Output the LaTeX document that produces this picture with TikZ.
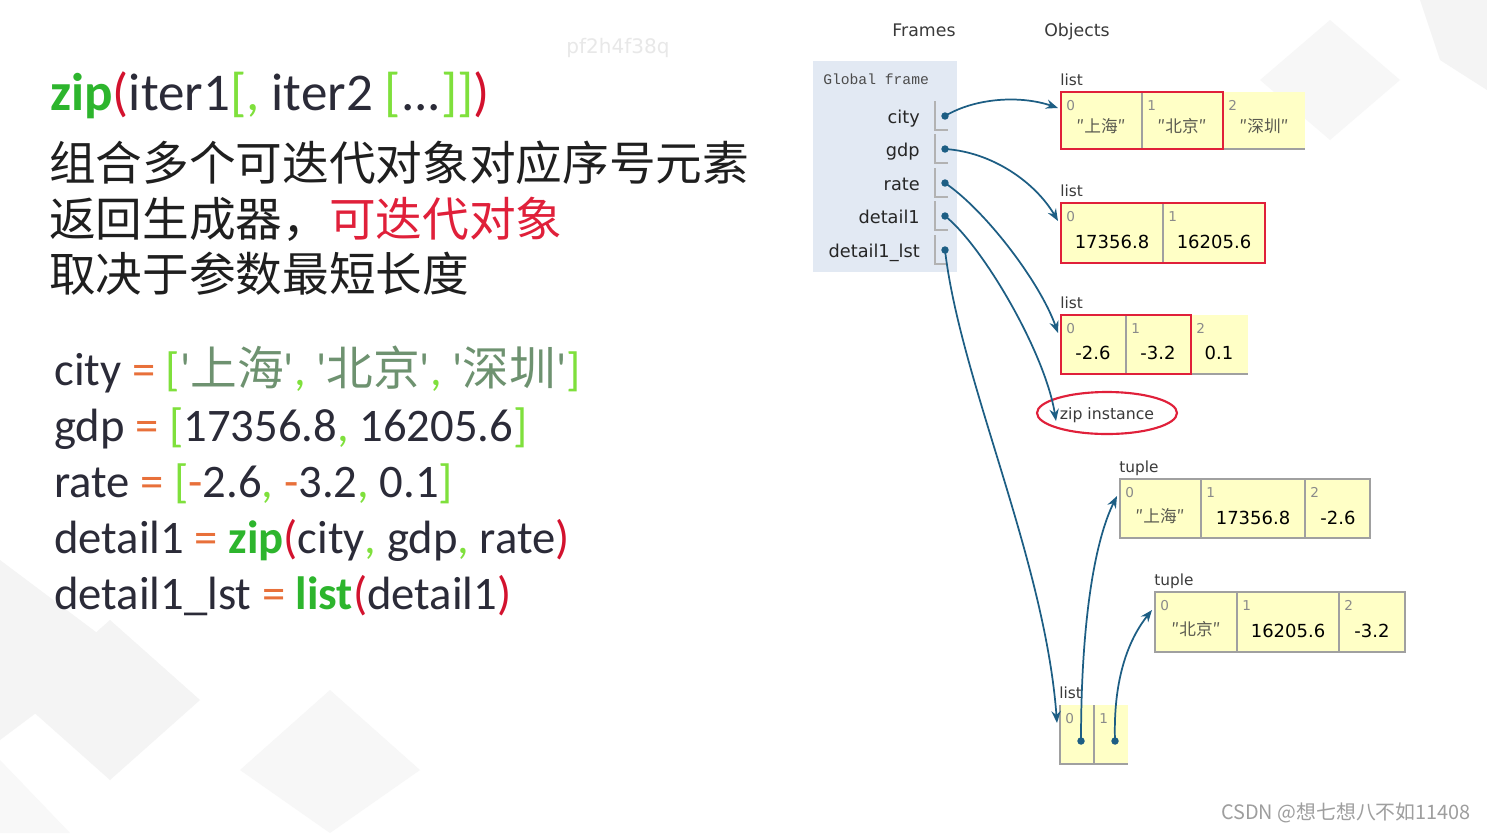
\documentclass[tikz,border=0pt]{standalone}
\usepackage{fontspec}
\usetikzlibrary{arrows.meta}
\setmainfont{Carlito}
\newfontfamily\cjk{Noto Sans CJK SC}
\newfontfamily\dv{DejaVu Sans}
\newfontfamily\mono{Liberation Mono}
\definecolor{titlegreen}{HTML}{2DB52D}
\definecolor{lgreen}{HTML}{7FE03C}
\definecolor{pred}{HTML}{D3122E}
\definecolor{darktext}{HTML}{2B2B38}
\definecolor{eqorange}{HTML}{E8703A}
\definecolor{strgreen}{HTML}{6E9270}
\definecolor{hlred}{HTML}{E0203A}
\definecolor{cellyellow}{HTML}{FFFFC6}
\definecolor{cellline}{HTML}{A0A0A0}
\definecolor{framebg}{HTML}{E2E9F3}
\definecolor{arrowblue}{HTML}{1D5E84}
\definecolor{dgrey}{HTML}{3A3A3A}
\definecolor{idxgrey}{HTML}{8A8A8A}
\definecolor{strgrey}{HTML}{5A5A50}
\definecolor{bgshape}{HTML}{F4F4F4}
\newcommand{\fsz}[1]{\fontsize{#1}{#1}\selectfont}
\newcommand{\cbr}[1]{\textcolor{lgreen}{#1}}
\newcommand{\ceq}[1]{\textcolor{eqorange}{#1}}
\newcommand{\cpar}[1]{\textcolor{pred}{#1}}
\newcommand{\cfun}[1]{\textbf{\textcolor{titlegreen}{#1}}}
\newcommand{\cstr}[1]{\textcolor{strgreen}{\textquotesingle{\cjk #1}\textquotesingle}}
\tikzset{
  txt/.style={inner sep=0pt, anchor=base west},
  titletxt/.style={txt, text=darktext, font=\fsz{39.8}},
  cntxt/.style={txt, text=black!88, font=\cjk\fsz{35}},
  codetxt/.style={txt, text=darktext, font=\fsz{35}},
  hdr/.style={inner sep=0pt, anchor=base, text=dgrey, font=\dv\fsz{13}},
  varname/.style={inner sep=0pt, anchor=base east, text=black!85, font=\dv\fsz{13.3}},
  objlabel/.style={inner sep=0pt, anchor=base west, text=dgrey, font=\dv\fsz{11.5}},
  idx/.style={inner sep=0pt, anchor=base west, text=idxgrey, font=\dv\fsz{10.2}},
  val/.style={inner sep=0pt, anchor=base, text=black, font=\dv\fsz{13.5}},
  strval/.style={inner sep=0pt, anchor=base, text=strgrey, font=\cjk\fsz{12.5}},
  ptr/.style={circle, fill=arrowblue, inner sep=0pt, minimum size=5.6pt},
  arr/.style={draw=arrowblue, line width=1.3pt, -{Stealth[length=9pt,width=7pt,inset=3pt]}},
  hl/.style={draw=hlred, line width=2.2pt},
  cellrule/.style={draw=cellline, line width=0.8pt},
  slotrule/.style={draw=black!30, line width=0.8pt},
}
\begin{document}
\begin{tikzpicture}[x=0.75pt,y=-0.75pt]
\useasboundingbox (0,0) rectangle (1487,833);
\fill[white] (0,0) rectangle (1487,833);
% faint background shapes
\fill[bgshape] (0,560) -- (120,650) -- (0,740) -- cycle;
\fill[bgshape] (110,620) -- (200,700) -- (110,780) -- (20,700) -- cycle;
\fill[bgshape!70!white] (330,690) -- (420,770) -- (330,833) -- (240,770) -- cycle;
\fill[bgshape!60!white] (0,760) -- (70,833) -- (0,833) -- cycle;
\fill[bgshape] (1420,0) -- (1487,0) -- (1487,90) -- (1440,60) -- cycle;
\fill[bgshape!70!white] (1330,20) -- (1400,80) -- (1330,140) -- (1260,80) -- cycle;
% watermark
\node[inner sep=0pt, text=black!9, font=\dv\fsz{15}] (wm) at (618,48) {pf2h4f38q};

% ---------- left texts ----------
\node[titletxt] (title) at (50,110) {\cfun{zip}\cpar{(}iter1\cbr{[, }iter2 \cbr{[}...\cbr{]]}\cpar{)}};
\node[cntxt] (cn1) at (49,180) {组合多个可迭代对象对应序号元素};
\node[cntxt] (cn2) at (49,236) {返回生成器，\textcolor{hlred}{可迭代对象}};
\node[cntxt] (cn3) at (49,291) {取决于参数最短长度};

\node[codetxt] (c1) at (54,385) {city \ceq{=} \cbr{[}\cstr{上海}\cbr{, }\cstr{北京}\cbr{, }\cstr{深圳}\cbr{]}};
\node[codetxt] (c2) at (54,441) {gdp \ceq{=} \cbr{[}17356.8\cbr{,} 16205.6\cbr{]}};
\node[codetxt] (c3) at (54,497) {rate \ceq{=} \cbr{[}\ceq{-}2.6\cbr{,} \ceq{-}3.2\cbr{,} 0.1\cbr{]}};
\node[codetxt] (c4) at (54,553) {detail1 \ceq{=} \cfun{zip}\cpar{(}city\cbr{,} gdp\cbr{,} rate\cpar{)}};
\node[codetxt] (c5) at (54,609) {detail1\_lst \ceq{=} \cfun{list}\cpar{(}detail1\cpar{)}};

% ---------- headers ----------
\node[hdr] (frames) at (924,36) {Frames};
\node[hdr] (objects) at (1077,36) {Objects};

% ---------- global frame ----------
\fill[framebg] (813,61) rectangle (957,272);
\node[inner sep=0pt, anchor=base west, text=black!70, font=\mono\fsz{11}] (gf) at (823,84) {Global frame};
\foreach \nm/\y/\lab in {city/116/city, gdp/149/gdp, rate/183/rate, dA/216/detail1, dB/250/detail1\_lst}{
  \draw[slotrule] (935,\y-15) -- (935,\y+14) -- (948,\y+14);
  \node[varname] (v\nm) at (920,\y+7) {\lab};
  \node[ptr] (p\nm) at (945,\y) {};
}

% ---------- list 1 (city) ----------
\node[objlabel] (l1lab) at (1060,85) {list};
\fill[cellyellow] (1061,92) rectangle (1305,149);
\draw[cellrule] (1142,92) -- (1142,149) (1223,92) -- (1223,149) (1061,149) -- (1305,149);
\draw[hl] (1061,92) rectangle (1223,149);
\node[idx] at (1066,110) {0};
\node[idx] at (1147,110) {1};
\node[idx] at (1228,110) {2};
\node[strval] at (1101,132) {″上海″};
\node[strval] at (1182,132) {″北京″};
\node[strval] at (1264,132) {″深圳″};

% ---------- list 2 (gdp) ----------
\node[objlabel] (l2lab) at (1060,196) {list};
\fill[cellyellow] (1061,203) rectangle (1265,263);
\draw[cellrule] (1163,203) -- (1163,263);
\draw[hl] (1061,203) rectangle (1265,263);
\node[idx] at (1066,221) {0};
\node[idx] at (1168,221) {1};
\node[val] at (1112,248) {17356.8};
\node[val] at (1214,248) {16205.6};

% ---------- list 3 (rate) ----------
\node[objlabel] (l3lab) at (1060,308) {list};
\fill[cellyellow] (1061,315) rectangle (1248,374);
\draw[cellrule] (1126,315) -- (1126,374) (1191,315) -- (1191,374) (1061,374) -- (1248,374);
\draw[hl] (1061,315) rectangle (1191,374);
\node[idx] at (1066,333) {0};
\node[idx] at (1131,333) {1};
\node[idx] at (1196,333) {2};
\node[val] at (1093,359) {-2.6};
\node[val] at (1158,359) {-3.2};
\node[val] at (1219,359) {0.1};

% ---------- zip instance ----------
\draw[hlred, line width=1.6pt] (1107,413) ellipse [x radius=70, y radius=21];
\node[inner sep=0pt, anchor=base, text=dgrey, font=\dv\fsz{11.8}] (zipi) at (1107,419) {zip instance};

% ---------- tuple 1 ----------
\node[objlabel] (t1lab) at (1119,472) {tuple};
\fill[cellyellow] (1120,479) rectangle (1370,538);
\draw[cellrule] (1120,479) rectangle (1370,538) (1201,479) -- (1201,538) (1305,479) -- (1305,538);
\node[idx] at (1125,497) {0};
\node[idx] at (1206,497) {1};
\node[idx] at (1310,497) {2};
\node[strval] at (1160,522) {″上海″};
\node[val] at (1253,524) {17356.8};
\node[val] at (1338,524) {-2.6};

% ---------- tuple 2 ----------
\node[objlabel] (t2lab) at (1154,585) {tuple};
\fill[cellyellow] (1155,592) rectangle (1405,652);
\draw[cellrule] (1155,592) rectangle (1405,652) (1237,592) -- (1237,652) (1339,592) -- (1339,652);
\node[idx] at (1160,610) {0};
\node[idx] at (1242,610) {1};
\node[idx] at (1344,610) {2};
\node[strval] at (1196,635) {″北京″};
\node[val] at (1288,637) {16205.6};
\node[val] at (1372,637) {-3.2};

% ---------- bottom list ----------
\node[objlabel] (l4lab) at (1059,698) {list};
\fill[cellyellow] (1060,705) rectangle (1128,764);
\draw[cellrule] (1060,705) -- (1060,764) -- (1128,764) (1094,705) -- (1094,764);
\node[idx] at (1065,723) {0};
\node[idx] at (1099,723) {1};
\node[ptr] (q0) at (1081,741) {};
\node[ptr] (q1) at (1115,741) {};

% ---------- arrow targets ----------
\coordinate (list1in) at (1058,108);
\coordinate (list2in) at (1058,221);
\coordinate (list3in) at (1058,333);
\coordinate (zipin) at (1056,421);
\coordinate (list4in) at (1057,723);
\coordinate (tup1in) at (1117,496);
\coordinate (tup2in) at (1152,610);

% ---------- arrows ----------
\draw[arr] (pcity.center) .. controls (975,98) and (1020,95) .. (list1in);
\draw[arr] (pgdp.center) .. controls (992,152) and (1035,182) .. (list2in);
\draw[arr] (prate.center) .. controls (985,210) and (1040,282) .. (list3in);
\draw[arr] (pdA.center) .. controls (982,245) and (1045,352) .. (zipin);
\draw[arr] (pdB.center) .. controls (960,380) and (1045,560) .. (list4in);
\draw[arr] (q0.center) .. controls (1081,620) and (1095,540) .. (tup1in);
\draw[arr] (q1.center) .. controls (1113,680) and (1128,640) .. (tup2in);

% ---------- footer ----------
\node[inner sep=0pt, anchor=base east, text=black!38, font=\cjk\fsz{14.9}] (csdn) at (1471,819) {CSDN @想七想八不如11408};
\end{tikzpicture}
\end{document}
